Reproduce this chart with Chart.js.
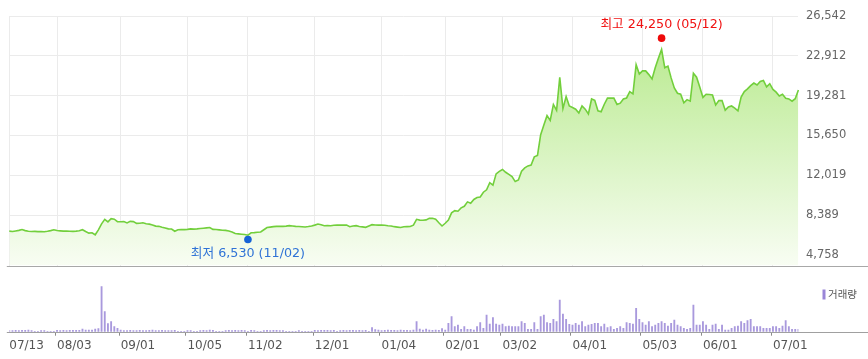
<!DOCTYPE html>
<html><head><meta charset="utf-8">
<script src="https://cdn.jsdelivr.net/npm/chart.js@4/dist/chart.umd.min.js"></script>
<style>
html,body{margin:0;padding:0;background:#fff;}
#wrap{position:relative;width:868px;height:359px;overflow:hidden;}
#priceBox{position:absolute;left:0;top:0;width:868px;height:280px;}
#volBox{position:absolute;left:0;top:280px;width:868px;height:79px;}
</style></head><body>
<div id="wrap"><div id="priceBox"><canvas id="price"></canvas></div><div id="volBox"><canvas id="vol"></canvas></div></div>
<script>
const dates = [
"07/13","07/14","07/15","07/16","07/17","07/20","07/21","07/22","07/23","07/24","07/27","07/28","07/29","07/30","07/31",
"08/03","08/04","08/05","08/06","08/07","08/10","08/11","08/12","08/13","08/14","08/18","08/19","08/20","08/21","08/24","08/25","08/26","08/27","08/28","08/31",
"09/01","09/02","09/03","09/04","09/07","09/08","09/09","09/10","09/11","09/14","09/15","09/16","09/17","09/18","09/21","09/22","09/23","09/24","09/25","09/28","09/29",
"10/05","10/06","10/07","10/08","10/12","10/13","10/14","10/15","10/16","10/19","10/20","10/21","10/22","10/23","10/26","10/27","10/28","10/29","10/30",
"11/02","11/03","11/04","11/05","11/06","11/09","11/10","11/11","11/12","11/13","11/16","11/17","11/18","11/19","11/20","11/23","11/24","11/25","11/26","11/27","11/30",
"12/01","12/02","12/03","12/04","12/07","12/08","12/09","12/10","12/11","12/14","12/15","12/16","12/17","12/18","12/21","12/22","12/23","12/24","12/28","12/29","12/30",
"01/04","01/05","01/06","01/07","01/08","01/11","01/12","01/13","01/14","01/15","01/18","01/19","01/20","01/21","01/22","01/25","01/26","01/27","01/28","01/29",
"02/01","02/02","02/03","02/04","02/05","02/08","02/09","02/10","02/15","02/16","02/17","02/18","02/19","02/22","02/23","02/24","02/25","02/26",
"03/02","03/03","03/04","03/05","03/08","03/09","03/10","03/11","03/12","03/15","03/16","03/17","03/18","03/19","03/22","03/23","03/24","03/25","03/26","03/29","03/30","03/31",
"04/01","04/02","04/05","04/06","04/07","04/08","04/09","04/12","04/13","04/14","04/15","04/16","04/19","04/20","04/21","04/22","04/23","04/26","04/27","04/28","04/29","04/30",
"05/03","05/04","05/06","05/07","05/10","05/11","05/12","05/13","05/14","05/17","05/18","05/20","05/21","05/24","05/25","05/26","05/27","05/28","05/31",
"06/01","06/02","06/03","06/04","06/07","06/08","06/09","06/10","06/11","06/14","06/15","06/16","06/17","06/18","06/21","06/22","06/23","06/24","06/25","06/28","06/29","06/30",
"07/01","07/02","07/05","07/06","07/07","07/08","07/09","07/12","07/13"
];
const prices = [
6930,6900,6950,7000,7080,6980,6920,6900,6910,6890,6900,6880,6920,6980,7060,
6990,6960,6930,6950,6920,6910,6930,6960,7060,6900,6750,6780,6600,7050,7600,8010,7780,8070,8020,7800,
7790,7810,7680,7820,7800,7640,7650,7700,7610,7570,7500,7390,7370,7290,7220,7140,7120,6920,7060,7080,7070,
7090,7140,7120,7140,7170,7200,7230,7260,7090,7080,7050,7020,7000,6940,6850,6710,6680,6650,6620,
6560,6780,6800,6830,6860,7060,7260,7300,7340,7370,7380,7370,7390,7430,7400,7370,7350,7330,7310,7350,7400,
7480,7580,7520,7430,7440,7430,7470,7490,7480,7490,7480,7340,7400,7430,7350,7320,7280,7400,7520,7490,7480,
7490,7470,7430,7400,7340,7300,7260,7330,7340,7350,7480,8010,7940,7930,7960,8100,8100,8020,7700,7400,
7650,7950,8600,8800,8750,9050,9200,9600,9480,9820,9990,10050,10480,10700,11350,11120,12150,12380,
12550,12300,12100,11900,11450,11600,12400,12700,12880,12950,13700,13830,15720,16600,17460,17030,18480,17950,20950,18100,19200,18340,
18200,18050,17700,18340,18050,17610,18980,18860,17900,17820,18500,19060,19070,19060,18480,18600,18980,19070,19650,19450,22100,21250,
21540,21540,21200,20810,21830,22700,23500,21830,21980,20900,19990,19500,19420,18630,18920,18780,21330,20960,20080,
19120,19410,19380,19350,18430,18830,18830,17960,18250,18340,18140,17900,19150,19650,19900,20200,20430,20250,20580,20670,20080,20370,
19850,19600,19250,19400,19050,18980,18780,19000,19790
];
const volumes = [
120,110,130,120,140,130,170,120,30,30,110,110,30,30,30,
130,120,130,120,140,130,140,140,250,150,170,170,250,300,4500,2000,800,1000,500,330,
170,120,110,130,120,110,130,120,110,130,170,120,110,130,120,110,120,130,30,30,30,
120,120,30,30,120,130,120,170,140,30,30,30,120,130,120,130,120,130,120,
30,130,120,30,30,120,130,120,130,130,120,120,30,30,30,30,110,30,30,30,30,
130,120,130,140,130,120,130,30,120,130,120,130,130,120,130,120,130,30,400,200,150,
120,130,150,130,130,120,150,130,130,120,150,1000,250,170,250,150,130,150,130,300,
150,830,1500,500,670,230,500,230,230,170,500,900,330,1670,770,1400,770,670,
770,500,570,500,500,500,1000,830,230,230,900,230,1500,1670,900,830,1230,1000,
3170,1770,1230,730,670,830,670,1000,500,670,730,830,830,500,770,400,500,230,330,500,330,900,830,770,2330,1230,900,
670,1000,500,670,830,1000,830,570,830,1170,670,500,330,230,330,2670,670,670,
1000,670,230,670,770,230,670,170,170,330,500,570,1000,830,1100,1230,500,500,500,330,330,330,500,500,330,570,1100,500,230,230,230
];
const xTickLabels = ["07/13","08/03","09/01","10/05","11/02","12/01","01/04","02/01","03/02","04/01","05/03","06/01","07/01"];
const yTicks = [4758, 8388.67, 12019.33, 15650, 19280.67, 22911.33, 26542];
const yTickLabels = ["4,758","8,389","12,019","15,650","19,281","22,912","26,542"];
const yRange = [3800, 26542];
const volMax = 4570;
const highDate = "05/12", highValue = 24250, highText = "최고 24,250 (05/12)";
const lowDate = "11/02", lowValue = 6530, lowText = "최저 6,530 (11/02)";
const volumeLegend = "거래량";

const tickIdx = new Set(xTickLabels.map(l => dates.indexOf(l)));
const labelFont = '"DejaVu Sans", "Noto Sans CJK KR", sans-serif';

const pricePlugin = {
  id: 'priceDecor',
  afterDatasetsDraw(chart) {
    const {ctx, chartArea, scales} = chart;
    const x = scales.x, y = scales.y;
    ctx.save();
    ctx.strokeStyle = '#a8a8a8'; ctx.lineWidth = 1;
    const by = Math.round(chartArea.bottom) + 0.5;
    ctx.beginPath(); ctx.moveTo(chartArea.left - 2.5, by); ctx.lineTo(chart.width, by); ctx.stroke();
    const hx = x.getPixelForValue(dates.indexOf(highDate));
    const hy = y.getPixelForValue(highValue) - 3;
    ctx.fillStyle = '#ee0a0a';
    ctx.beginPath(); ctx.arc(hx, hy, 3.8, 0, Math.PI*2); ctx.fill();
    ctx.font = '12.7px ' + labelFont; ctx.textAlign = 'center'; ctx.textBaseline = 'middle';
    ctx.fillStyle = '#f01010';
    ctx.fillText(highText, hx, hy - 13);
    const lx = x.getPixelForValue(dates.indexOf(lowDate));
    const ly = y.getPixelForValue(lowValue) + 4;
    ctx.fillStyle = '#1763d6';
    ctx.beginPath(); ctx.arc(lx, ly, 3.8, 0, Math.PI*2); ctx.fill();
    ctx.fillStyle = '#2f73d6';
    ctx.fillText(lowText, lx, ly + 14);
    ctx.restore();
  }
};

const volPlugin = {
  id: 'volDecor',
  afterDatasetsDraw(chart) {
    const {ctx, chartArea} = chart;
    ctx.save();
    ctx.strokeStyle = '#a0a0a0'; ctx.lineWidth = 1;
    const by = Math.round(chartArea.bottom) + 0.5;
    ctx.beginPath(); ctx.moveTo(chartArea.left - 2.5, by); ctx.lineTo(chart.width, by); ctx.stroke();
    ctx.fillStyle = '#9a86d8';
    ctx.fillRect(chart.width - 45.5, 9.5, 3, 10);
    ctx.fillStyle = '#555';
    ctx.font = '10.5px "Noto Sans CJK KR", sans-serif';
    ctx.textAlign = 'left'; ctx.textBaseline = 'middle';
    ctx.fillText(volumeLegend, chart.width - 40, 14.5);
    ctx.restore();
  }
};

new Chart(document.getElementById('price'), {
  type: 'line',
  data: { labels: dates, datasets: [{
    data: prices, borderColor: '#72cf3c', borderWidth: 1.6, pointRadius: 0, tension: 0, fill: 'start',
    backgroundColor: (c) => {
      const a = c.chart.chartArea;
      if (!a) return 'rgba(0,0,0,0)';
      const g = c.chart.ctx.createLinearGradient(0, a.top, 0, a.bottom);
      g.addColorStop(0, '#b2e884'); g.addColorStop(1, '#f8fdf3');
      return g;
    }
  }]},
  options: {
    responsive: true, maintainAspectRatio: false, animation: false,
    layout: { padding: { left: 9.3, top: 16, bottom: 3.3, right: 0 } },
    plugins: { legend: { display: false }, tooltip: { enabled: false } },
    scales: {
      x: { type: 'category', offset: false,
        ticks: { display: false, autoSkip: false },
        grid: { drawTicks: false, lineWidth: 1, color: (c) => tickIdx.has(c.index) ? '#ebebeb' : 'rgba(0,0,0,0)' },
        border: { display: false },
        afterFit: (s) => { s.height = 0; } },
      y: { position: 'right', min: yRange[0], max: yRange[1],
        afterBuildTicks: (s) => { s.ticks = yTicks.map(v => ({ value: v })); },
        ticks: { callback: (v, i) => yTickLabels[i], padding: 7.6, color: '#666', font: { family: labelFont, size: 11.5 } },
        grid: { drawTicks: false, color: '#ebebeb' },
        border: { display: false },
        afterFit: (s) => { s.width = 69.6; } }
    }
  },
  plugins: [pricePlugin]
});

new Chart(document.getElementById('vol'), {
  type: 'bar',
  data: { labels: dates, datasets: [{ data: volumes, backgroundColor: '#a999dd', barThickness: 1.2, borderWidth: 0 }] },
  options: {
    responsive: true, maintainAspectRatio: false, animation: false,
    layout: { padding: { left: 9.3, right: 69.6, top: 6, bottom: 0 } },
    plugins: { legend: { display: false }, tooltip: { enabled: false } },
    scales: {
      x: { type: 'category', offset: false,
        grid: { display: true, drawOnChartArea: false, drawTicks: true, tickLength: 4,
          color: (c) => tickIdx.has(c.index) ? '#8a8a8a' : 'rgba(0,0,0,0)' },
        border: { display: false },
        ticks: { autoSkip: false, maxRotation: 0, minRotation: 0, align: 'start', padding: 3, color: '#555',
          font: { family: labelFont, size: 12 },
          callback: (v, i) => tickIdx.has(i) ? dates[i] : '' },
        afterFit: (s) => { s.height = 27.3; } },
      y: { display: false, min: 0, max: volMax }
    }
  },
  plugins: [volPlugin]
});
</script>
</body></html>
